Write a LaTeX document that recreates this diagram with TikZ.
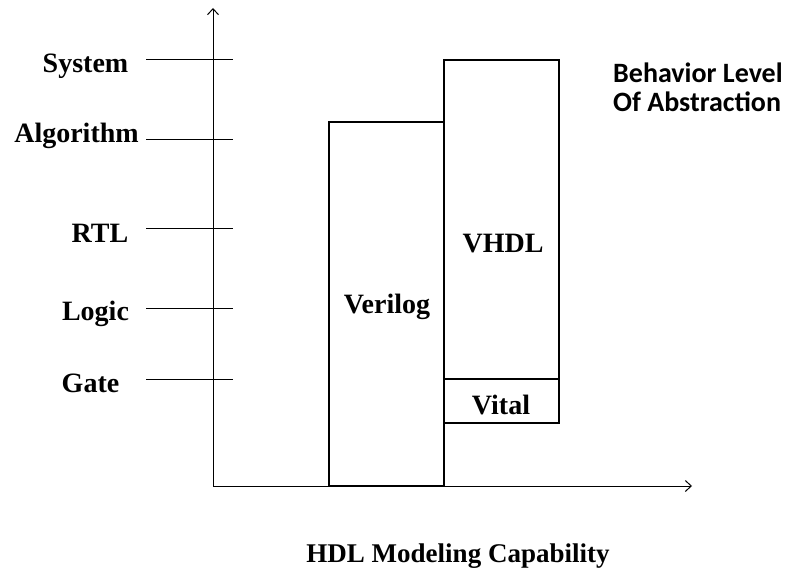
\documentclass[tikz,border=0pt]{standalone}
\usepackage{fontspec}
\setmainfont{Liberation Serif}
\newfontfamily\calib{Carlito}
\usetikzlibrary{arrows.meta}
\begin{document}
\begin{tikzpicture}[x=1pt,y=-1pt,
  lbl/.style={font=\fontsize{28}{32}\selectfont\bfseries, inner sep=0pt, anchor=base},
  rlbl/.style={font=\calib\fontsize{28}{31}\selectfont\bfseries, inner sep=0pt, anchor=base west},
  axisline/.style={line width=1pt, -{Straight Barb[length=6pt,width=11pt]}},
  tick/.style={line width=0.8pt},
  hbox/.style={draw, line width=2.2pt}]
\useasboundingbox (0,0) rectangle (786,569);
% axes
\coordinate (o) at (213,486);
\coordinate (ytop) at (213,8);
\coordinate (xend) at (692,486);
\draw[axisline] (o) -- (ytop);
\draw[axisline] (o) -- (xend);
% ticks
\foreach \n/\y in {sys/59, alg/139, rtl/228, log/308, gat/379}{
  \coordinate (\n a) at (146,\y);
  \coordinate (\n b) at (233,\y);
  \draw[tick] (\n a) -- (\n b);
}
% axis labels
\node[lbl] (lsys) at (85.5,73) {System};
\node[lbl] (lalg) at (76.5,143) {Algorithm};
\node[lbl] (lrtl) at (100,242) {RTL};
\node[lbl] (llog) at (95.5,320) {Logic};
\node[lbl] (lgat) at (90.5,392) {Gate};
% boxes
\draw[hbox] (329,122) rectangle (444,486);
\draw[hbox] (444,60) rectangle (559,379);
\draw[hbox] (444,379) rectangle (559,423);
\node[lbl] (ver) at (387,313) {Verilog};
\node[lbl] (vhdl) at (503,252) {VHDL};
\node[lbl] (vit) at (501,414) {Vital};
% right text
\node[rlbl] (beh) at (613,83) {Behavior Level};
\node[rlbl] (abs) at (613,112) {Of Abstraction};
% x label
\node[lbl, font=\fontsize{27}{31}\selectfont\bfseries] (hdl) at (458,562) {HDL Modeling Capability};
\end{tikzpicture}
\end{document}
